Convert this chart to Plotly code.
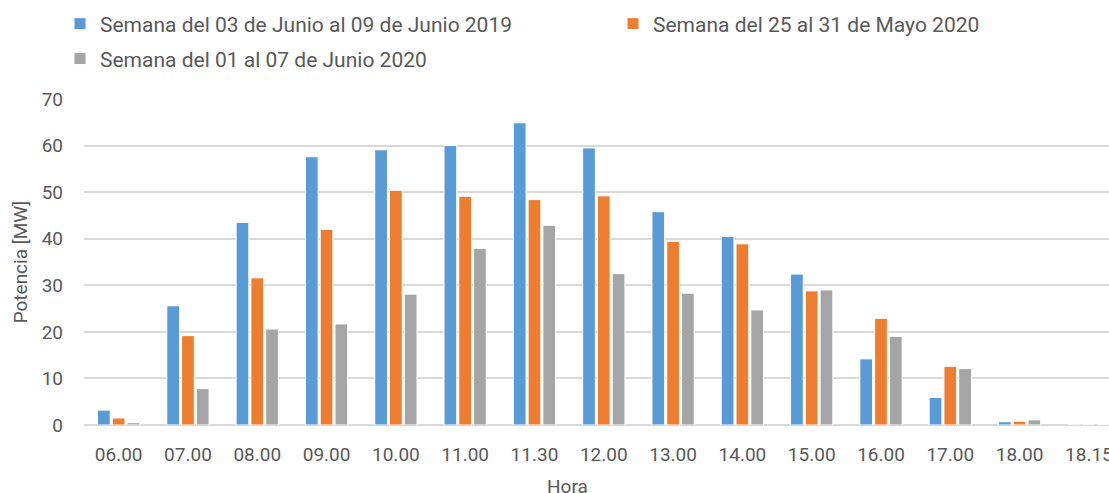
import plotly.graph_objects as go

horas = ["06.00", "07.00", "08.00", "09.00", "10.00", "11.00", "11.30", "12.00",
         "13.00", "14.00", "15.00", "16.00", "17.00", "18.00", "18.15"]
semana_2019 = [3.2, 25.6, 43.5, 57.6, 59.1, 60.0, 64.9, 59.5, 45.8, 40.5, 32.4, 14.2, 5.9, 0.7, 0.0]
semana_mayo_2020 = [1.5, 19.2, 31.6, 42.0, 50.4, 49.1, 48.4, 49.2, 39.4, 38.9, 28.8, 22.9, 12.6, 0.8, 0.0]
semana_junio_2020 = [0.5, 7.8, 20.6, 21.7, 28.1, 37.9, 42.9, 32.5, 28.3, 24.7, 29.0, 19.0, 12.1, 1.1, 0.1]

nombres = ["Semana del 03 de Junio al 09 de Junio 2019",
           "Semana del 25 al 31 de Mayo 2020",
           "Semana del 01 al 07 de Junio 2020"]
colores = ["#5b9bd5", "#ed7d31", "#a5a5a5"]
leyendas = ["legend", "legend2", "legend3"]

fig = go.Figure()
for nombre, vals, col, lg in zip(nombres, [semana_2019, semana_mayo_2020, semana_junio_2020], colores, leyendas):
    fig.add_trace(go.Bar(x=list(range(len(horas))), y=vals, name=nombre, legend=lg, showlegend=True,
                         marker=dict(color=col, line=dict(color="white", width=1))))

font_color = "#595959"
fam = "Roboto"
legend_common = dict(orientation="h", xanchor="left", yanchor="middle",
                     font=dict(family=fam, size=21, color=font_color),
                     itemwidth=30, bgcolor="rgba(0,0,0,0)")

fig.update_layout(
    width=1109, height=493,
    showlegend=True,
    margin=dict(l=84, r=0, t=99, b=68, autoexpand=False),
    paper_bgcolor="white", plot_bgcolor="white",
    font=dict(family=fam, size=19, color=font_color),
    barmode="group", bargap=0.36, bargroupgap=0.14,
    legend=dict(x=(60 - 84) / 1025, y=1.23, visible=True, **legend_common),
    legend2=dict(x=(613 - 84) / 1025, y=1.23, visible=True, **legend_common),
    legend3=dict(x=(60 - 84) / 1025, y=1.123, visible=True, **legend_common),
    xaxis=dict(range=[-0.5, 14.29], tickmode="array", tickvals=list(range(len(horas))),
               ticktext=horas, showgrid=False, zeroline=False, showline=False,
               ticks="", ticklabelstandoff=16, ticklabeloverflow="allow",
               tickfont=dict(size=19, color=font_color)),
    yaxis=dict(range=[0, 70], dtick=10, showgrid=True, gridcolor="#d9d9d9", gridwidth=1.5,
               zeroline=True, zerolinecolor="#d9d9d9", zerolinewidth=1.5,
               ticks="", ticklabelstandoff=20,
               tickfont=dict(size=19, color=font_color),
               title=dict(text="Potencia [MW]", font=dict(size=19, color=font_color), standoff=8)),
    annotations=[dict(text="Hora", xref="paper", yref="paper",
                      x=(567 - 84) / 1025, y=-(486 - 425) / 326,
                      xanchor="center", yanchor="middle", showarrow=False,
                      font=dict(family=fam, size=19, color=font_color))],
)

fig.write_html("out.html", config={"displayModeBar": False},
               post_script="document.body.style.margin='0';document.body.style.overflow='hidden';")
